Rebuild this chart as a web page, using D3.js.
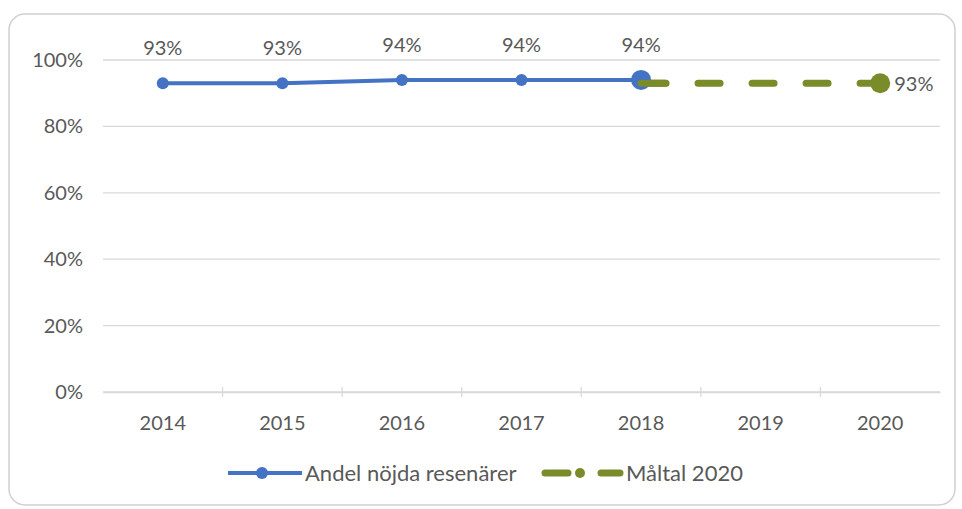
<!DOCTYPE html>
<html>
<head>
<meta charset="utf-8">
<script src="https://cdn.jsdelivr.net/npm/d3@7"></script>
<style>
  body { margin: 0; background: #fff; }
  text { font-family: Lato, "Open Sans", sans-serif; }
</style>
</head>
<body>
<div class="chart"></div>
<script>
// data
const years = ["2014", "2015", "2016", "2017", "2018", "2019", "2020"];
const nojdaYears = ["2014", "2015", "2016", "2017", "2018"];
const nojdaValues = [0.93, 0.93, 0.94, 0.94, 0.94];
const maltalYears = ["2018", "2019", "2020"];
const maltalValues = [0.93, 0.93, 0.93];
const yTicks = [0, 0.2, 0.4, 0.6, 0.8, 1.0];
const seriesNames = ["Andel nöjda resenärer", "Måltal 2020"];

const blue = "#4472C4";
const green = "#7A8C2A";
const textGrey = "#595959";

const svg = d3.select(".chart")
  .append("svg")
  .attr("width", 962)
  .attr("height", 509);

// chart frame
svg.append("rect")
  .attr("x", 9).attr("y", 14)
  .attr("width", 946).attr("height", 491)
  .attr("rx", 16)
  .attr("fill", "#fff")
  .attr("stroke", "#d0d0d0")
  .attr("stroke-width", 1.5);

const x = d3.scaleBand()
  .domain(years)
  .range([103, 940]);

const y = d3.scaleLinear()
  .domain([0, 1])
  .range([392, 60]);

// gridlines
svg.append("g")
  .selectAll("line")
  .data(yTicks)
  .join("line")
  .attr("x1", 103).attr("x2", 940)
  .attr("y1", d => y(d)).attr("y2", d => y(d))
  .attr("stroke", "#d9d9d9")
  .attr("stroke-width", 1.3);

// y labels
svg.append("g")
  .selectAll("text")
  .data(yTicks)
  .join("text")
  .attr("x", 83)
  .attr("y", d => y(d) + 7)
  .attr("text-anchor", "end")
  .attr("font-size", 20)
  .attr("fill", textGrey)
  .text(d => d3.format(".0%")(d));

// x axis with small ticks between categories
const xAxis = svg.append("g")
  .attr("transform", `translate(0,${y(0)})`)
  .call(d3.axisBottom(x).tickSize(0).tickPadding(24));
xAxis.select(".domain").attr("stroke", "#d9d9d9").attr("stroke-width", 1.3);
xAxis.selectAll("text")
  .attr("font-size", 20)
  .attr("fill", textGrey)
  .attr("font-family", "Lato, sans-serif");

svg.append("g")
  .selectAll("line")
  .data(years.slice(1))
  .join("line")
  .attr("x1", d => x(d)).attr("x2", d => x(d))
  .attr("y1", y(0) - 5).attr("y2", y(0) + 5)
  .attr("stroke", "#d9d9d9")
  .attr("stroke-width", 1.3);

const cx = d => x(d) + x.bandwidth() / 2;

// target line (dashed)
const maltal = maltalYears.map((yr, i) => ({ yr, v: maltalValues[i] }));
svg.append("path")
  .datum(maltal)
  .attr("fill", "none")
  .attr("stroke", green)
  .attr("stroke-width", 7)
  .attr("stroke-linecap", "round")
  .attr("stroke-dasharray", "22,32")
  .attr("stroke-dashoffset", -3)
  .attr("d", d3.line().x(d => cx(d.yr)).y(d => y(d.v)));

// satisfied travellers line
const nojda = nojdaYears.map((yr, i) => ({ yr, v: nojdaValues[i] }));
svg.append("path")
  .datum(nojda)
  .attr("fill", "none")
  .attr("stroke", blue)
  .attr("stroke-width", 4)
  .attr("d", d3.line().x(d => cx(d.yr)).y(d => y(d.v)));

svg.append("g")
  .selectAll("circle")
  .data(nojda)
  .join("circle")
  .attr("cx", d => cx(d.yr))
  .attr("cy", d => y(d.v))
  .attr("r", (d, i) => i === nojda.length - 1 ? 10 : 6)
  .attr("fill", blue);

// green short dash over the last blue point, then end marker
svg.append("line")
  .attr("x1", cx("2018")).attr("x2", cx("2018") + 24)
  .attr("y1", y(maltal[0].v)).attr("y2", y(maltal[0].v))
  .attr("stroke", green).attr("stroke-width", 7)
  .attr("stroke-linecap", "round");

const last = maltal[maltal.length - 1];
svg.append("circle")
  .attr("cx", cx(last.yr))
  .attr("cy", y(last.v))
  .attr("r", 10)
  .attr("fill", green);

// data labels
svg.append("g")
  .selectAll("text")
  .data(nojda)
  .join("text")
  .attr("x", d => cx(d.yr))
  .attr("y", d => y(d.v) - 28)
  .attr("text-anchor", "middle")
  .attr("font-size", 20)
  .attr("fill", textGrey)
  .text(d => d3.format(".0%")(d.v));

svg.append("text")
  .attr("x", cx(last.yr) + 14)
  .attr("y", y(last.v) + 8)
  .attr("font-size", 20)
  .attr("fill", textGrey)
  .text(d3.format(".0%")(last.v));

// legend
const leg = svg.append("g").attr("font-size", 22).attr("fill", textGrey);
leg.append("line")
  .attr("x1", 228).attr("x2", 302).attr("y1", 473).attr("y2", 473)
  .attr("stroke", blue).attr("stroke-width", 4);
leg.append("circle").attr("cx", 262).attr("cy", 473).attr("r", 6).attr("fill", blue);
leg.append("text").attr("x", 305).attr("y", 481).text(seriesNames[0]);

leg.append("line")
  .attr("x1", 545).attr("x2", 568).attr("y1", 473).attr("y2", 473)
  .attr("stroke", green).attr("stroke-width", 7).attr("stroke-linecap", "round");
leg.append("circle").attr("cx", 580).attr("cy", 473).attr("r", 5).attr("fill", green);
leg.append("line")
  .attr("x1", 601).attr("x2", 620).attr("y1", 473).attr("y2", 473)
  .attr("stroke", green).attr("stroke-width", 7).attr("stroke-linecap", "round");
leg.append("text").attr("x", 626).attr("y", 481).text(seriesNames[1]);
</script>
</body>
</html>
